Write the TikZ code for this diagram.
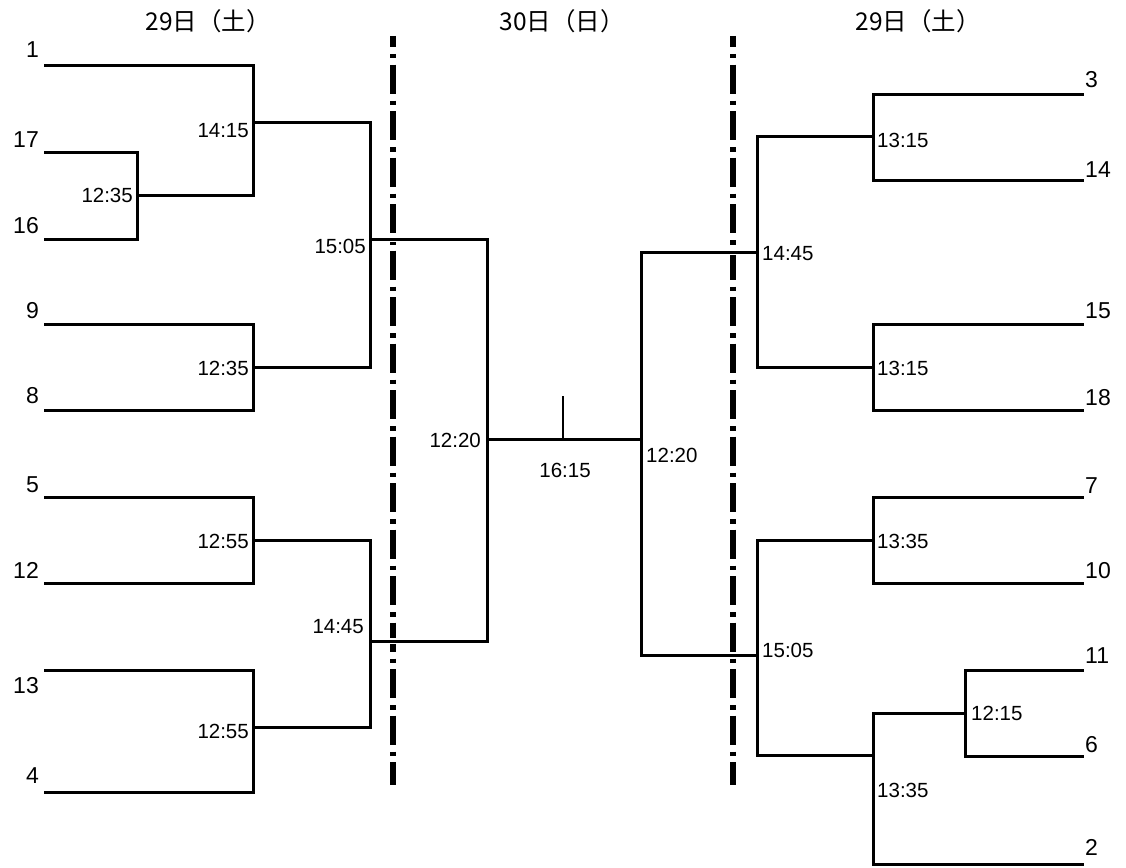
\documentclass[tikz,border=0pt]{standalone}
\usepackage{fontspec}
\setmainfont{Liberation Sans}
\newfontfamily\jpfont{Noto Sans CJK JP}
\begin{document}
\begin{tikzpicture}[x=1pt,y=-1pt,
  br/.style={line width=3pt, line cap=rect},
  sepline/.style={line width=6.5pt, dash pattern=on 29pt off 7pt on 4.5pt off 6pt, dash phase=18pt},
  gapw/.style={draw=white, line width=5.5pt},
  num/.style={font=\fontsize{23}{23}\selectfont, inner sep=0pt},
  tm/.style={font=\fontsize{20.5}{20.5}\selectfont, inner sep=0pt},
  hd/.style={font=\jpfont\fontsize{24.5}{24.5}\selectfont, inner sep=0pt}]
\useasboundingbox (0,0) rectangle (1126,867);

% headers
\node[hd] (h1) at (208,21) {29日（土）};
\node[hd] (h2) at (562,21) {30日（日）};
\node[hd] (h3) at (918,21) {29日（土）};

% separator lines
\coordinate (s1t) at (393,36); \coordinate (s1b) at (393,785);
\coordinate (s2t) at (733,36); \coordinate (s2b) at (733,785);
\draw[sepline] (s1t) -- (s1b);
\draw[sepline] (s2t) -- (s2b);
% white notches where lines cross
\coordinate (g1a) at (386,239); \coordinate (g1b) at (400,239);
\coordinate (g2a) at (386,641); \coordinate (g2b) at (400,641);
\coordinate (g3a) at (726,252); \coordinate (g3b) at (740,252);
\coordinate (g4a) at (726,655); \coordinate (g4b) at (740,655);
\draw[gapw] (g1a) -- (g1b); \draw[gapw] (g2a) -- (g2b);
\draw[gapw] (g3a) -- (g3b); \draw[gapw] (g4a) -- (g4b);

% ---------- left half ----------
\coordinate (a1) at (45,65);   \coordinate (a1e) at (253,65);
\coordinate (a17) at (45,152); \coordinate (a17e) at (137,152);
\coordinate (a16) at (45,239); \coordinate (a16e) at (137,239);
\coordinate (a9) at (45,324);  \coordinate (a9e) at (253,324);
\coordinate (a8) at (45,410);  \coordinate (a8e) at (253,410);
\coordinate (a5) at (45,497);  \coordinate (a5e) at (253,497);
\coordinate (a12) at (45,583); \coordinate (a12e) at (253,583);
\coordinate (a13) at (45,670); \coordinate (a13e) at (253,670);
\coordinate (a4) at (45,792);  \coordinate (a4e) at (253,792);
\draw[br] (a1) -- (a1e);
\draw[br] (a17) -- (a17e) -- (a16e) -- (a16);
\draw[br] (a9) -- (a9e) -- (a8e) -- (a8);
\draw[br] (a5) -- (a5e) -- (a12e) -- (a12);
\draw[br] (a13) -- (a13e) -- (a4e) -- (a4);
\coordinate (m1a) at (137,195); \coordinate (m1b) at (253,195);
\draw[br] (m1a) -- (m1b) -- (a1e);
\coordinate (m2a) at (253,122); \coordinate (m2b) at (370,122);
\coordinate (m3a) at (253,367); \coordinate (m3b) at (370,367);
\draw[br] (m2a) -- (m2b) -- (m3b) -- (m3a);
\coordinate (m4a) at (370,239); \coordinate (m4b) at (487,239);
\coordinate (m5a) at (253,540); \coordinate (m5b) at (370,540);
\coordinate (m6a) at (253,727); \coordinate (m6b) at (370,727);
\draw[br] (m5a) -- (m5b) -- (m6b) -- (m6a);
\coordinate (m7a) at (370,641); \coordinate (m7b) at (487,641);
\draw[br] (m4a) -- (m4b) -- (m7b) -- (m7a);
% final
\coordinate (f1) at (487,439); \coordinate (f2) at (641,439);
\coordinate (ft) at (563,396); \coordinate (fm) at (563,439);
\draw[br] (f1) -- (f2);
\draw[br, line width=2.4pt, line cap=butt] (ft) -- (fm);

% ---------- right half ----------
\coordinate (r3) at (1082,94);   \coordinate (r3e) at (873,94);
\coordinate (r14) at (1082,180); \coordinate (r14e) at (873,180);
\coordinate (r15) at (1082,324); \coordinate (r15e) at (873,324);
\coordinate (r18) at (1082,410); \coordinate (r18e) at (873,410);
\coordinate (r7) at (1082,497);  \coordinate (r7e) at (873,497);
\coordinate (r10) at (1082,583); \coordinate (r10e) at (873,583);
\coordinate (r11) at (1082,670); \coordinate (r11e) at (965,670);
\coordinate (r6) at (1082,756);  \coordinate (r6e) at (965,756);
\coordinate (r2) at (1082,864);  \coordinate (r2e) at (873,864);
\draw[br] (r3) -- (r3e) -- (r14e) -- (r14);
\draw[br] (r15) -- (r15e) -- (r18e) -- (r18);
\draw[br] (r7) -- (r7e) -- (r10e) -- (r10);
\draw[br] (r11) -- (r11e) -- (r6e) -- (r6);
\draw[br] (r2) -- (r2e);
\coordinate (n1a) at (873,136); \coordinate (n1b) at (757,136);
\coordinate (n2a) at (873,367); \coordinate (n2b) at (757,367);
\draw[br] (n1a) -- (n1b) -- (n2b) -- (n2a);
\coordinate (n3a) at (873,540); \coordinate (n3b) at (757,540);
\coordinate (n4a) at (965,713); \coordinate (n4b) at (873,713);
\draw[br] (n4a) -- (n4b) -- (r2e);
\coordinate (n5a) at (873,755); \coordinate (n5b) at (757,755);
\draw[br] (n3a) -- (n3b) -- (n5b) -- (n5a);
\coordinate (n6a) at (757,252); \coordinate (n6b) at (641,252);
\coordinate (n7a) at (757,655); \coordinate (n7b) at (641,655);
\draw[br] (n6a) -- (n6b) -- (n7b) -- (n7a);

% ---------- team numbers ----------
\node[num, anchor=base east] (t1)  at (39,58)  {1};
\node[num, anchor=base east] (t17) at (39,147) {17};
\node[num, anchor=base east] (t16) at (39,233) {16};
\node[num, anchor=base east] (t9)  at (39,318) {9};
\node[num, anchor=base east] (t8)  at (39,403) {8};
\node[num, anchor=base east] (t5)  at (39,492) {5};
\node[num, anchor=base east] (t12) at (39,578) {12};
\node[num, anchor=base east] (t13) at (39,693) {13};
\node[num, anchor=base east] (t4)  at (39,783) {4};
\node[num, anchor=base west] (t3)  at (1085,87)  {3};
\node[num, anchor=base west] (t14) at (1085,177) {14};
\node[num, anchor=base west] (t15) at (1085,318) {15};
\node[num, anchor=base west] (t18) at (1085,405) {18};
\node[num, anchor=base west] (t7)  at (1085,493) {7};
\node[num, anchor=base west] (t10) at (1085,578) {10};
\node[num, anchor=base west] (t11) at (1085,663) {11};
\node[num, anchor=base west] (t6)  at (1085,752) {6};
\node[num, anchor=base west] (t2)  at (1085,855) {2};

% ---------- times ----------
\node[tm, anchor=base east] (k1) at (249,137) {14:15};
\node[tm, anchor=base east] (k2) at (133,202) {12:35};
\node[tm, anchor=base east] (k3) at (366,253) {15:05};
\node[tm, anchor=base east] (k4) at (249,375) {12:35};
\node[tm, anchor=base east] (k5) at (249,548) {12:55};
\node[tm, anchor=base east] (k6) at (364,633) {14:45};
\node[tm, anchor=base east] (k7) at (249,738) {12:55};
\node[tm, anchor=base east] (k8) at (481,447) {12:20};
\node[tm, anchor=base] (k9) at (565,477) {16:15};
\node[tm, anchor=base west] (k10) at (646,462) {12:20};
\node[tm, anchor=base west] (k11) at (762,260) {14:45};
\node[tm, anchor=base west] (k12) at (877,147) {13:15};
\node[tm, anchor=base west] (k13) at (877,375) {13:15};
\node[tm, anchor=base west] (k14) at (877,548) {13:35};
\node[tm, anchor=base west] (k15) at (762,657) {15:05};
\node[tm, anchor=base west] (k16) at (971,720) {12:15};
\node[tm, anchor=base west] (k17) at (877,797) {13:35};
\end{tikzpicture}
\end{document}
